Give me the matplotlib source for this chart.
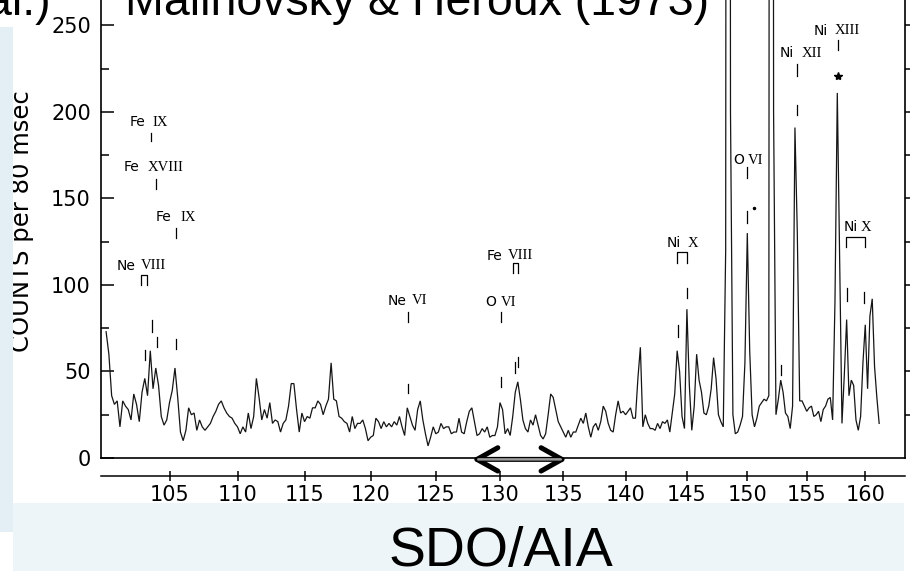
import numpy as np
import matplotlib
matplotlib.use("Agg")
import matplotlib.pyplot as plt
from matplotlib.patches import Rectangle
from matplotlib.ticker import NullLocator

# ---------------- data ----------------
# spectrum sampled every 0.2 A, starting at 100.4 A
counts_100 = [73, 60, 36, 31, 33, 18, 33, 30, 28, 22, 37, 31, 21, 38, 46, 36, 62, 40, 52, 42, 24, 19, 22]
counts_105 = [32, 39, 52, 35, 15, 10, 16, 29, 25, 26, 16, 22, 18, 16, 18, 20, 24, 27, 31, 33, 29, 26, 24, 23, 20]
counts_110 = [18, 14, 18, 15, 26, 17, 24, 46, 35, 22, 28, 23, 32, 20, 22, 21, 15, 20, 22, 30, 43, 43, 28, 15, 26]
counts_115 = [21, 24, 23, 29, 29, 33, 31, 25, 30, 34, 55, 34, 33, 24, 23, 21, 20, 15, 24, 17, 20, 20, 22, 17, 10]
counts_120 = [12, 13, 23, 21, 17, 21, 18, 20, 18, 21, 19, 24, 18, 13, 29, 24, 19, 16, 28, 33, 22, 14, 7, 12, 18]
counts_125 = [14, 15, 20, 17, 18, 18, 14, 15, 15, 23, 15, 14, 21, 27, 29, 21, 13, 14, 17, 15, 18, 12, 13, 13, 18]
counts_130 = [32, 28, 14, 17, 13, 24, 38, 44, 34, 22, 17, 15, 22, 19, 25, 19, 13, 11, 14, 25, 37, 35, 28, 21, 18]
counts_135 = [15, 12, 16, 12, 15, 15, 19, 23, 20, 26, 18, 12, 18, 20, 16, 21, 30, 27, 20, 16, 15, 25, 33, 26, 27]
counts_140 = [25, 27, 29, 23, 23, 46, 64, 18, 25, 20, 17, 17, 16, 20, 17, 21, 20, 22, 15, 26, 37, 62, 50, 24, 17]
counts_145 = [86, 42, 16, 30, 60, 45, 38, 26, 25, 30, 40, 58, 46, 25, 21, 18, 120, 2000, 200, 25, 14, 15, 19, 24, 55]
counts_150 = [130, 62, 25, 18, 23, 30, 32, 34, 33, 36, 2000, 200, 25, 34, 45, 38, 26, 24, 17, 30, 191, 130, 33, 33, 30]
counts_155 = [27, 29, 30, 24, 25, 27, 21, 28, 30, 34, 35, 22, 90, 211, 115, 20, 48, 80, 36, 45, 42, 22, 16, 24, 55]
counts_160 = [77, 40, 82, 92, 53, 35, 20]

counts = np.array(counts_100 + counts_105 + counts_110 + counts_115 + counts_120 +
                  counts_125 + counts_130 + counts_135 + counts_140 + counts_145 +
                  counts_150 + counts_155 + counts_160, dtype=float)
wavelength = np.round(100.4 + 0.2 * np.arange(len(counts)), 1)

x_ticks = [105, 110, 115, 120, 125, 130, 135, 140, 145, 150, 155, 160]
y_ticks = [0, 50, 100, 150, 200, 250]
y_minor = [25, 75, 125, 175, 225]
right_ticks = [25, 50, 75, 100, 125, 150, 175, 200, 225, 250]

# line identifications
species = ['Fe', 'Fe', 'Fe', 'Ne', 'Ne', 'O', 'Fe', 'Ni', 'O', 'Ni', 'Ni', 'Ni']
stages = ['IX', 'XVIII', 'IX', 'VIII', 'VI', 'VI', 'VIII', 'X', 'VI', 'XII', 'XIII', 'X']
species_wl = [102.13, 101.69, 104.0, 101.19, 121.32, 128.83, 128.98, 143.37, 148.81, 152.74, 155.62, 158.17]
stage_wl = [103.79, 103.43, 105.77, 102.92, 123.16, 130.08, 130.63, 145.09, 150.06, 154.59, 157.4, 159.6]
label_counts = [194, 168, 139, 111, 91, 90, 117, 124, 172, 234, 247, 133.5]

marker_wl = [103.64, 103.98, 105.46, 103.21, 103.69, 104.1, 105.48, 122.88, 122.88, 130.08, 130.08,
             131.2, 131.45, 145.0, 144.25, 150.0, 150.0, 152.8, 154.15, 154.15, 157.65, 158.4, 159.9]
marker_lo = [183, 155.5, 127, 56.6, 72.8, 64, 63, 78.6, 37.6, 78.6, 41,
             49, 52.6, 92.5, 70, 162, 136, 48, 221, 198, 235.8, 91, 89.6]
marker_hi = [188, 161, 133, 62.4, 79.8, 70, 68.8, 84.4, 42.8, 84.4, 46.8,
             55.5, 58.4, 98, 77, 168, 143, 53.8, 228, 204, 241.6, 98, 96]

bracket_left = [102.93, 131.0, 144.2, 158.35]
bracket_right = [103.36, 131.4, 145.0, 159.95]
bracket_low = [100, 107, 112.7, 122]
bracket_high = [105.8, 112.7, 119, 127.7]

star_wl, star_counts = 157.65, 221
dot_wl, dot_counts = 150.6, 144.5

band_start, band_end, band_level = 127.8, 135.3, -0.8


# non-linear wavelength scale of the scanned plot
def fwd(l):
    d = np.asarray(l, dtype=float) - 130.0
    return 12.745 * d - 0.019 * d * d


def inv(p):
    p = np.asarray(p, dtype=float)
    disc = np.clip(12.745 ** 2 - 4 * 0.019 * p, 1e-9, None)
    return 130.0 + (12.745 - np.sqrt(disc)) / (2 * 0.019)


# ---------------- figure ----------------
W, H = 910, 571
fig = plt.figure(figsize=(W / 100, H / 100), dpi=100)
fig.patch.set_facecolor('white')

ax = fig.add_axes([100.55 / W, 113 / H, (904.5 - 100.55) / W, 458 / H])
ax.set_facecolor('none')
ax.set_xscale('function', functions=(fwd, inv))
ax.set_xlim(100.0, 163.4)
ax.set_ylim(0, 264.7)

ax.plot(wavelength, counts, color='#151515', lw=0.9, solid_joinstyle='miter')

# zero line
ax.axhline(0, color='black', lw=1.2, clip_on=False)

# spines
ax.spines['top'].set_visible(False)
for s in ('left', 'right'):
    ax.spines[s].set_linewidth(1.2)
ax.spines['bottom'].set_position(('outward', 12.7))
ax.spines['bottom'].set_linewidth(1.1)

ax.set_xticks(x_ticks)
ax.set_xticklabels([str(t) for t in x_ticks])
ax.xaxis.set_minor_locator(NullLocator())
ax.tick_params(axis='x', direction='inout', length=7.2, width=1.1, labelsize=15, pad=3)

ax.yaxis.set_ticks_position('left')
ax.set_yticks(y_ticks)
ax.set_yticks(y_minor, minor=True)
ax.tick_params(axis='y', which='major', direction='in', length=9.5, width=1.1, labelsize=15, pad=7)
ax.tick_params(axis='y', which='minor', direction='in', length=5.5, width=1.1)

ax2 = ax.twinx()
ax2.set_ylim(ax.get_ylim())
ax2.set_yticks(right_ticks)
ax2.set_yticklabels([''] * len(right_ticks))
ax2.tick_params(axis='y', direction='out', length=6, width=1.1)
for s in ax2.spines.values():
    s.set_visible(False)

# identification marks
for l, lo, hi in zip(marker_wl, marker_lo, marker_hi):
    ax.plot([l, l], [lo, hi], color='black', lw=0.9)
for l, r, lo, hi in zip(bracket_left, bracket_right, bracket_low, bracket_high):
    ax.plot([l, l, r, r], [lo, hi, hi, lo], color='black', lw=0.9)
ax.plot([star_wl], [star_counts], marker='*', color='black', markersize=6)
ax.plot([dot_wl], [dot_counts], marker='o', color='black', markersize=1.5)

for sp, st, xs, xn, yc in zip(species, stages, species_wl, stage_wl, label_counts):
    ax.text(xs, yc, sp, ha='left', va='center', fontsize=10, family='DejaVu Sans')
    ax.text(xn, yc, st, ha='left', va='center', fontsize=10.5, family='Liberation Serif')

# double arrow (AIA 131 band)
ax.annotate('', xy=(band_start, band_level), xytext=(band_end, band_level),
            arrowprops=dict(arrowstyle='<->,head_length=1.5,head_width=0.84', lw=3.6,
                            color='black', shrinkA=0, shrinkB=0, mutation_scale=10),
            annotation_clip=False)
ax.annotate('', xy=(band_start + 0.5, band_level), xytext=(band_end - 0.5, band_level),
            arrowprops=dict(arrowstyle='-', lw=1.8, color='#9a9a9a', shrinkA=0, shrinkB=0),
            annotation_clip=False)

# y label
fig.text(21.7 / W, 1 - 221 / H, 'COUNTS per 80 msec', rotation=90, ha='center', va='center',
         fontsize=17.5, family='DejaVu Sans')

# slide decorations
fig.add_artist(Rectangle((0, (H - 532) / H), 13.3 / W, (532 - 27) / H, transform=fig.transFigure,
                         facecolor='#e3eef5', edgecolor='none', zorder=5))
fig.add_artist(Rectangle((13.3 / W, 0), (904 - 13.3) / W, (H - 503) / H, transform=fig.transFigure,
                         facecolor='#eef5f8', edgecolor='none', zorder=5))

fig.text(125 / W, 1 - 15 / H, 'Malinovsky & Heroux (1973)', ha='left', va='baseline',
         fontsize=33.5, family='Liberation Sans', zorder=6)
fig.text(51 / W, 1 - 15 / H, 'al.)', ha='right', va='baseline',
         fontsize=33.5, family='Liberation Sans', zorder=6)
fig.text(501 / W, 1 - 566 / H, 'SDO/AIA', ha='center', va='baseline',
         fontsize=40, family='Liberation Sans', zorder=6)

fig.savefig('out.png', dpi=100)
